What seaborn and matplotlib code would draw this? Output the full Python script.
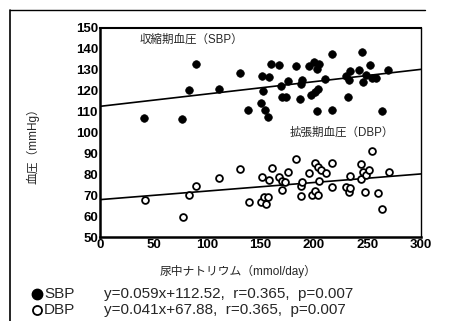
import numpy as np
import pandas as pd
import matplotlib
matplotlib.use("Agg")
import matplotlib.pyplot as plt
import seaborn as sns

sns.set_style("white")
plt.rcParams['font.family'] = ['Liberation Sans', 'Noto Sans CJK JP']

# ---- data ----
sbp_x = [41, 77, 83, 90, 111, 131, 138, 150, 151, 152, 154, 157, 158, 160, 167, 169, 170, 174,
         176, 183, 187, 188, 189, 195, 197, 200, 201, 203, 204, 205, 203, 210, 217, 217, 230,
         232, 234, 233, 245, 242, 246, 249, 252, 254, 258, 264, 269]
sbp_y = [107.1, 106.3, 120.4, 132.7, 120.6, 128.7, 110.9, 114.1, 126.8, 120.0, 111.0, 107.4,
         126.4, 132.6, 132.4, 122.3, 117.0, 117.0, 124.8, 131.8, 116.0, 123.4, 125.0, 131.8,
         117.9, 133.9, 119.2, 130.2, 121.0, 133.0, 110.4, 125.5, 137.6, 110.8, 126.8, 117.2,
         129.2, 125.3, 138.6, 130.1, 124.0, 127.6, 132.5, 126.3, 126.3, 110.2, 130.1]
dbp_x = [42, 78, 83, 90, 111, 131, 139, 150, 151, 153, 155, 157, 158, 161, 167, 170, 170, 173,
         176, 183, 188, 188, 189, 195, 198, 201, 201, 204, 205, 204, 207, 211, 217, 217, 230,
         233, 234, 234, 244, 244, 246, 248, 249, 251, 254, 260, 264, 270]
dbp_y = [67.8, 59.5, 70.0, 74.6, 78.3, 82.6, 66.9, 66.9, 78.9, 68.9, 65.9, 69.2, 77.5, 82.8,
         78.8, 76.6, 72.3, 76.1, 81.2, 87.4, 74.5, 69.4, 76.5, 80.5, 70.2, 85.6, 71.8, 69.9,
         77.0, 83.7, 82.1, 80.5, 85.6, 73.7, 73.7, 71.3, 79.3, 73.4, 84.7, 77.8, 81.0, 71.5,
         79.7, 82.0, 91.3, 71.0, 63.4, 81.0]
slopes = [0.059, 0.041]
intercepts = [112.52, 67.88]
x_ticks = [0, 50, 100, 150, 200, 250, 300]
y_ticks = [50, 60, 70, 80, 90, 100, 110, 120, 130, 140, 150]
series_names = ["SBP", "DBP"]
stats_text = ["y=0.059x+112.52,  r=0.365,  p=0.007",
              "y=0.041x+67.88,  r=0.365,  p=0.007"]

sbp = pd.DataFrame({"x": sbp_x, "y": sbp_y})
dbp = pd.DataFrame({"x": dbp_x, "y": dbp_y})

fig = plt.figure(figsize=(4.52, 3.21), dpi=100)
ax = fig.add_axes([100/452, 1-237/321, 321/452, 209/321])

sns.scatterplot(data=sbp, x="x", y="y", ax=ax, color="black", edgecolor="black",
                s=30, linewidth=0.5, zorder=3)
sns.scatterplot(data=dbp, x="x", y="y", ax=ax, color="white", edgecolor="black",
                s=24, linewidth=1.3, zorder=3)

xl = np.array([0, 300])
for m, b in zip(slopes, intercepts):
    sns.lineplot(x=xl, y=m * xl + b, ax=ax, color="black", linewidth=1.2, zorder=2)

ax.set_xlim(0, 300)
ax.set_ylim(50, 150)
ax.set_xticks(x_ticks)
ax.set_yticks(y_ticks)
ax.set_xticklabels([str(t) for t in x_ticks], fontsize=9.5, fontweight="bold")
ax.set_yticklabels([str(t) for t in y_ticks], fontsize=9.5, fontweight="bold")
ax.tick_params(axis="both", direction="in", length=3, width=1, pad=1.5, colors="black")
for side, lw in zip(["left", "bottom", "top", "right"], [1.8, 1.8, 1.5, 1.0]):
    ax.spines[side].set_visible(True)
    ax.spines[side].set_color("black")
    ax.spines[side].set_linewidth(lw)

ax.set_xlabel("尿中ナトリウム（mmol/day）", fontsize=8.5)
ax.set_ylabel("血圧（mmHg）", fontsize=8.5)
ax.xaxis.set_label_coords(0.43, -0.167)
ax.yaxis.set_label_coords(-0.209, 0.45)
ax.xaxis.label.set_va("center")
ax.yaxis.label.set_va("center")

ax.text(37, 144.3, "収縮期血圧（SBP）", fontsize=8.3, ha="left", va="center")
ax.text(177.6, 99.8, "拡張期血圧（DBP）", fontsize=8.3, ha="left", va="center")

# bottom legend / statistics
ys = [1-294/321, 1-310/321]
fig.add_artist(plt.Line2D([37/452], [ys[0]], marker="o", markersize=7.5, color="black",
                          linestyle="none", transform=fig.transFigure))
fig.add_artist(plt.Line2D([37/452], [ys[1]], marker="o", markersize=6.5, markerfacecolor="white",
                          markeredgecolor="black", markeredgewidth=1.3, linestyle="none",
                          transform=fig.transFigure))
for yy, name, st in zip(ys, series_names, stats_text):
    fig.text(44/452, yy, name, fontsize=11, ha="left", va="center")
    fig.text(104/452, yy, st, fontsize=11, ha="left", va="center")

# frame lines of the figure panel
fig.add_artist(plt.Line2D([10/452, 10/452], [0, 1-10/321], color="black", linewidth=1.2,
                          transform=fig.transFigure))
fig.add_artist(plt.Line2D([10/452, 425/452], [1-10/321, 1-10/321], color="black",
                          linewidth=1.0, transform=fig.transFigure))

fig.savefig("out.png", dpi=100)
